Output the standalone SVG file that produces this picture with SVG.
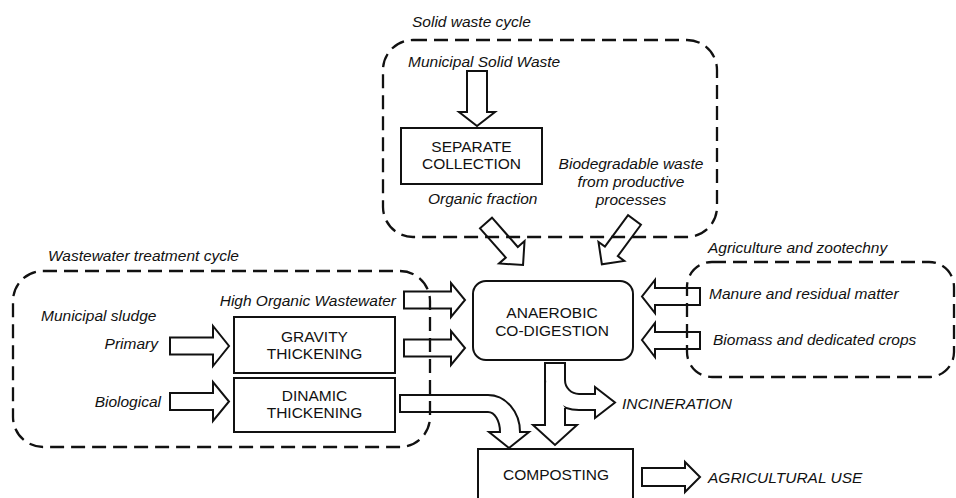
<svg xmlns="http://www.w3.org/2000/svg" width="956" height="498" viewBox="0 0 956 498">
<style>
text{font-family:"Liberation Sans",Arial,sans-serif;font-size:15.5px;fill:#111}
.it{font-style:italic}
.box{fill:#fff;stroke:#111;stroke-width:2}
.arr{fill:#fff;stroke:#111;stroke-width:2;stroke-linejoin:miter}
.grp{fill:none;stroke:#111;stroke-width:2.3;stroke-dasharray:14 7}
</style>
<rect width="956" height="498" fill="#fff"/>
<g id="connectors">
<path class="arr" d="M467,71 H487 V112 H495 L477,126 L459,112 H467 Z"/>
<path class="arr" transform="translate(486,223) rotate(48.6)" d="M0,-8 H39 V-17 L56,0 L39,17 V8 H0 Z"/>
<path class="arr" transform="translate(634.5,220) rotate(126.4)" d="M0,-8 H39 V-16 L55,0 L39,16 V8 H0 Z"/>
<path class="arr" d="M404,291.5 H451 V283 L465,300 L451,317 V308.5 H404 Z"/>
<path class="arr" d="M404,339.5 H451 V331 L465,348 L451,365 V356.5 H404 Z"/>
<path class="arr" d="M170,337.5 H213 V326 L229,346 L213,366 V354.5 H170 Z"/>
<path class="arr" d="M170,393 H213 V382 L229,401.5 L213,421 V410 H170 Z"/>
<path class="arr" d="M700,288 H655 V280 L642,296.5 L655,313 V305 H700 Z"/>
<path class="arr" d="M700,332 H655 V323 L642,340 L655,357 V349 H700 Z"/>
<path class="arr" d="M400,395 H488 A32,37 0 0 1 520,432 H529 L509,448 L489,432 H500 A12,20 0 0 0 488,412 H400 Z"/>
<path class="arr" d="M545,363 H565 V380 A14,14 0 0 0 579,394 H595 V387 L615,402.5 L595,418 V410 H579 A34,30 0 0 1 545,380 Z"/>
<path class="arr" d="M545,380 V425 H533 L555,445 L577,425 H565 V408"/>
<path class="arr" d="M642,468 H685 V462 L700,477 L685,492 V486 H642 Z"/>
</g>
<g id="solid-waste-cycle">
<rect class="grp" x="383" y="40" width="334" height="197" rx="30"/>
<text class="it" x="412" y="26.5">Solid waste cycle</text>
<text class="it" x="408" y="66.5">Municipal Solid Waste</text>
<text class="it" x="631" y="168.5" text-anchor="middle">Biodegradable waste</text>
<text class="it" x="631" y="186.5" text-anchor="middle">from productive</text>
<text class="it" x="631" y="204.5" text-anchor="middle">processes</text>
<text class="it" x="428" y="203.5">Organic fraction</text>
</g>
<g id="separate-collection">
<rect class="box" x="401" y="128" width="141" height="56"/>
<text x="471.5" y="151.5" text-anchor="middle">SEPARATE</text>
<text x="471.5" y="168.5" text-anchor="middle">COLLECTION</text>
</g>
<g id="wastewater-cycle">
<rect class="grp" x="13" y="271" width="417" height="176" rx="30"/>
<text class="it" x="48" y="260.5">Wastewater treatment cycle</text>
<text class="it" x="396" y="305.5" text-anchor="end">High Organic Wastewater</text>
<text class="it" x="41" y="320.5">Municipal sludge</text>
<text class="it" x="158" y="348.5" text-anchor="end">Primary</text>
<text class="it" x="161" y="406.5" text-anchor="end">Biological</text>
</g>
<g id="gravity-thickening">
<rect class="box" x="234" y="317" width="161" height="56"/>
<text x="314.5" y="341.5" text-anchor="middle">GRAVITY</text>
<text x="314.5" y="358.5" text-anchor="middle">THICKENING</text>
</g>
<g id="dinamic-thickening">
<rect class="box" x="234" y="378" width="161" height="54"/>
<text x="314.5" y="400.5" text-anchor="middle">DINAMIC</text>
<text x="314.5" y="417.5" text-anchor="middle">THICKENING</text>
</g>
<g id="agriculture-zootechny">
<rect class="grp" x="687" y="262" width="267" height="115" rx="25"/>
<text class="it" x="708" y="252.5">Agriculture and zootechny</text>
<text class="it" x="709" y="298.5">Manure and residual matter</text>
<text class="it" x="713" y="344.5">Biomass and dedicated crops</text>
</g>
<g id="anaerobic-codigestion">
<rect class="box" x="473" y="281" width="160" height="79" rx="13"/>
<text x="552" y="317.5" text-anchor="middle">ANAEROBIC</text>
<text x="552" y="335.5" text-anchor="middle">CO-DIGESTION</text>
</g>
<g id="incineration">
<text class="it" x="622" y="408.5">INCINERATION</text>
</g>
<g id="composting">
<rect class="box" x="478" y="449" width="155" height="60"/>
<text x="556" y="479.5" text-anchor="middle">COMPOSTING</text>
</g>
<g id="agricultural-use">
<text class="it" x="708" y="482.5">AGRICULTURAL USE</text>
</g>
</svg>
